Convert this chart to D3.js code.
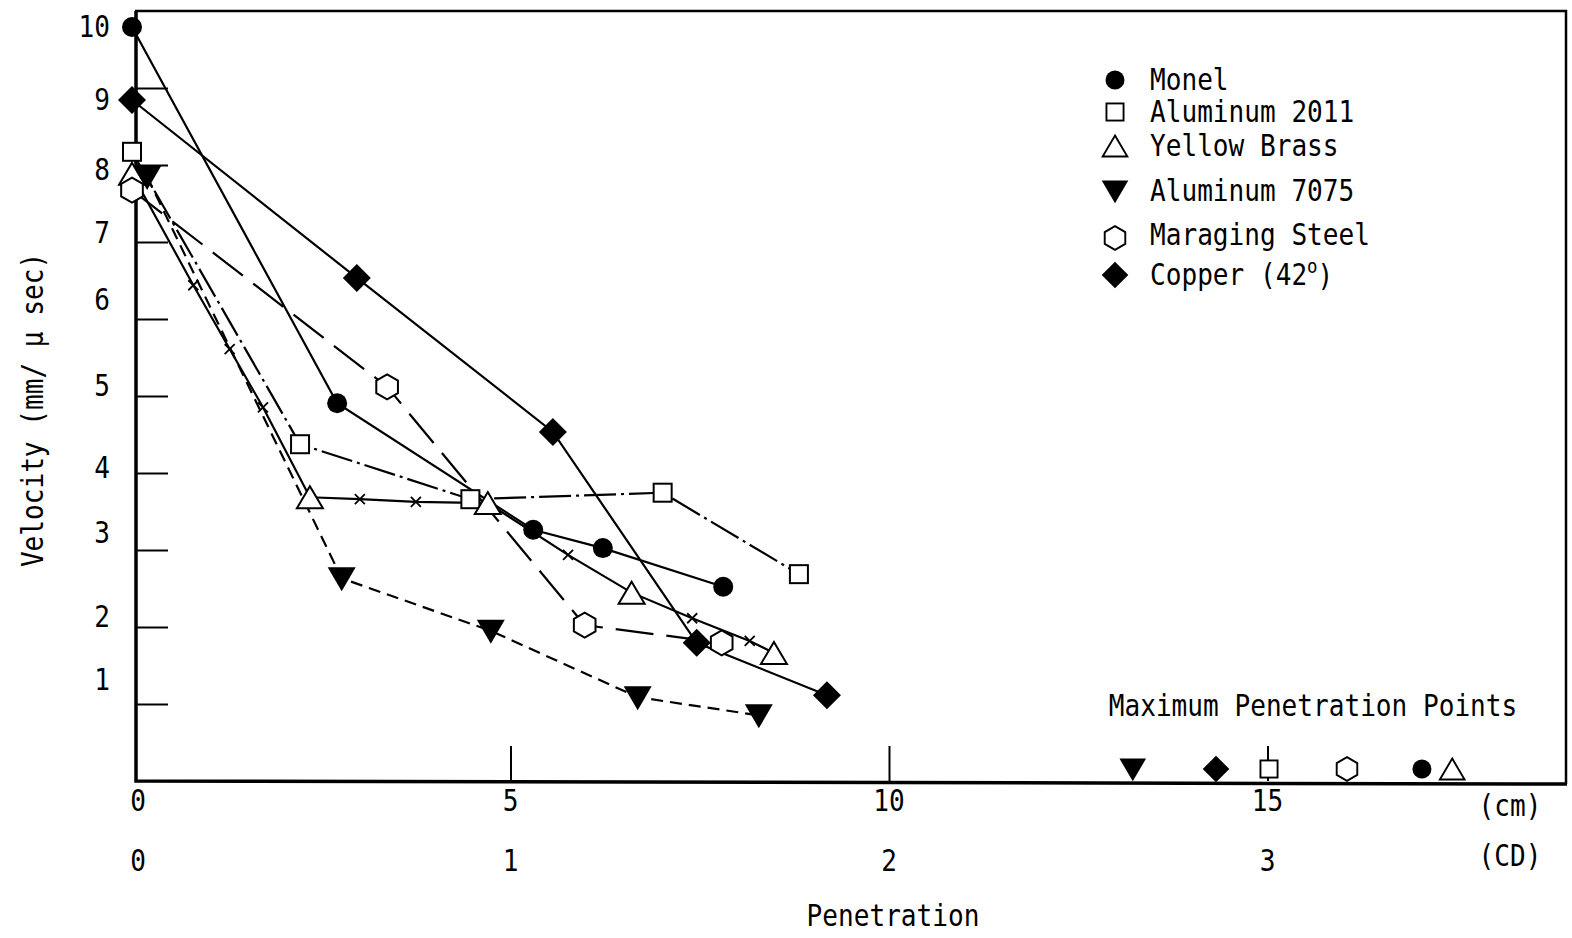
<!DOCTYPE html>
<html>
<head>
<meta charset="utf-8">
<script src="https://cdn.jsdelivr.net/npm/d3@7"></script>
<style>
  body { margin: 0; background: #fff; }
  svg { display: block; }
</style>
</head>
<body>
<div id="chart"></div>
<script>
// penetration in cm, velocity in mm/usec
var materials = ['Monel', 'Aluminum 2011', 'Yellow Brass', 'Aluminum 7075', 'Maraging Steel', 'Copper'];

var monelPen = [0, 2.71, 5.30, 6.22, 7.81];
var monelVel = [10, 4.79, 3.05, 2.82, 2.36];

var al2011Pen = [0, 2.22, 4.47, 7.01, 8.81];
var al2011Vel = [8.26, 4.29, 3.52, 3.62, 2.51];

var brassPen = [0, 2.35, 4.70, 6.60, 8.48];
var brassVel = [7.94, 3.55, 3.46, 2.29, 1.43];
// small x marks drawn along the brass curve
var brassCrossPen = [0.81, 1.29, 1.73, 3.01, 3.75, 5.76, 7.40, 8.16];
var brassCrossVel = [6.22, 5.43, 4.74, 3.52, 3.48, 2.74, 1.98, 1.62];

var al7075Pen = [0.20, 2.77, 4.74, 6.68, 8.28];
var al7075Vel = [7.89, 2.46, 1.78, 0.83, 0.65];

var maragingPen = [0, 3.37, 5.98, 7.79];
var maragingVel = [7.68, 4.99, 1.87, 1.59];

var copperPen = [0, 2.97, 5.56, 7.46, 9.18];
var copperVel = [9, 6.33, 4.44, 1.59, 0.85];

// maximum penetration (cm), same order as materials
var maxPen = [17.04, 15.02, 17.44, 13.22, 16.05, 14.32];

var velTicks = [1, 2, 3, 4, 5, 6, 7, 8, 9, 10];
var cmTicks = [0, 5, 10, 15];
var cdTicks = [0, 1, 2, 3];

var svgWidth = 1572;
var svgHeight = 938;
var fontFam = "'DejaVu Sans Mono', 'Liberation Mono', monospace";

var x = d3.scaleLinear().domain([0, 15]).range([132, 1267.5]);
// tick marks are evenly spaced, the hand-lettered labels are not
var yTick = d3.scaleLinear().domain([0, 10]).range([781, 11]);
var y = d3.scaleLinear()
    .domain([0, 1, 2, 3, 4, 5, 6, 7, 8, 9, 10])
    .range([781, 680, 617, 533, 468, 386, 300, 233, 170, 100, 27]);

var svg = d3.select('#chart').append('svg')
    .attr('width', svgWidth)
    .attr('height', svgHeight);

// condensed typewriter-ish text
function label(g, px, py, str, anchor) {
    return g.append('text')
        .attr('transform', `translate(${px},${py}) scale(0.87,1)`)
        .attr('text-anchor', anchor || 'middle')
        .attr('dominant-baseline', 'central')
        .style('font-family', fontFam)
        .style('font-size', '30px')
        .attr('fill', '#000')
        .text(str);
}

function marker(g, type, cx, cy, s) {
    s = s || 1;
    var m = g.append('g').attr('transform', `translate(${cx},${cy}) scale(${s})`);
    if (type == 'circle') {
        m.append('circle').attr('r', 10).attr('fill', '#000');
    } else if (type == 'square') {
        m.append('rect').attr('x', -9).attr('y', -9).attr('width', 18).attr('height', 18)
            .attr('fill', '#fff').attr('stroke', '#000').attr('stroke-width', 2);
    } else if (type == 'triangle') {
        m.append('path').attr('d', 'M0,-11L13,11L-13,11Z')
            .attr('fill', '#fff').attr('stroke', '#000').attr('stroke-width', 2);
    } else if (type == 'down') {
        m.append('path').attr('d', 'M-14,-11L14,-11L0,13Z').attr('fill', '#000');
    } else if (type == 'hexagon') {
        var pts = d3.range(6).map(i => {
            var a = Math.PI / 3 * i - Math.PI / 2;
            return [12.5 * Math.cos(a), 12.5 * Math.sin(a)];
        });
        m.append('path').attr('d', 'M' + pts.join('L') + 'Z')
            .attr('fill', '#fff').attr('stroke', '#000').attr('stroke-width', 2);
    } else if (type == 'diamond') {
        m.append('path').attr('d', 'M0,-14L14,0L0,14L-14,0Z').attr('fill', '#000');
    } else if (type == 'cross') {
        m.append('path').attr('d', 'M-5,-5L5,5M5,-5L-5,5')
            .attr('stroke', '#000').attr('stroke-width', 1.8);
    }
    return m;
}

var series = [
    { name: materials[0], pen: monelPen, vel: monelVel, shape: 'circle', dash: null },
    { name: materials[1], pen: al2011Pen, vel: al2011Vel, shape: 'square', dash: '32,5,3,5' },
    { name: materials[2], pen: brassPen, vel: brassVel, shape: 'triangle', dash: null },
    { name: materials[3], pen: al7075Pen, vel: al7075Vel, shape: 'down', dash: '12,7' },
    { name: materials[4], pen: maragingPen, vel: maragingVel, shape: 'hexagon', dash: '38,13' },
    { name: materials[5], pen: copperPen, vel: copperVel, shape: 'diamond', dash: null }
];

// y tick marks (inward)
svg.append('g')
    .attr('transform', `translate(${x(0) + 4},0)`)
    .call(d3.axisRight(yTick).tickValues(d3.range(1, 10)).tickSize(32).tickFormat(''))
    .call(g => g.select('.domain').remove())
    .call(g => g.selectAll('line').attr('stroke', '#000').attr('stroke-width', 2));

// x tick marks (upward)
svg.append('g')
    .attr('transform', `translate(0,${yTick(0)})`)
    .call(d3.axisTop(x).tickValues([5, 10, 15]).tickSize(35).tickFormat(''))
    .call(g => g.select('.domain').remove())
    .call(g => g.selectAll('line').attr('stroke', '#000').attr('stroke-width', 2));

// frame: thin top/right, heavy axes
svg.append('path')
    .attr('d', `M${x(0) + 3},${yTick(10)}L1566,${yTick(10)}L1566,${yTick(0) + 3}`)
    .attr('fill', 'none').attr('stroke', '#000').attr('stroke-width', 2.5);
svg.append('path')
    .attr('d', `M${x(0) + 4},${yTick(10)}L${x(0) + 4},${yTick(0)}L1567,${yTick(0) + 3}`)
    .attr('fill', 'none').attr('stroke', '#000').attr('stroke-width', 3.5);

// y labels
velTicks.forEach(v => label(svg, 110, y(v), String(v), 'end'));

// x labels, cm and charge diameters
cmTicks.forEach(v => label(svg, x(v) + (v == 0 ? 6 : 0), 801, String(v)));
cdTicks.forEach(v => label(svg, x(v * 5) + (v == 0 ? 6 : 0), 861, String(v)));
label(svg, 1510, 806, '(cm)');
label(svg, 1510, 856, '(CD)');
label(svg, 893, 916, 'Penetration');

svg.append('text')
    .attr('transform', 'translate(33,410) rotate(-90) scale(0.87,1)')
    .attr('text-anchor', 'middle')
    .attr('dominant-baseline', 'central')
    .style('font-family', fontFam)
    .style('font-size', '30px')
    .attr('fill', '#000')
    .text('Velocity (mm/ \u03bc sec)');

// lines
var line = d3.line().x(d => x(d[0])).y(d => y(d[1]));

var linesG = svg.append('g').attr('fill', 'none').attr('stroke', '#000').attr('stroke-width', 2.2);

series.forEach((s, i) => {
    var pts = s.pen.map((p, j) => [p, s.vel[j]]);
    if (s.name == 'Yellow Brass') {
        pts = pts.concat(brassCrossPen.map((p, j) => [p, brassCrossVel[j]]))
            .sort((a, b) => a[0] - b[0]);
    }
    linesG.append('path')
        .attr('d', line(pts))
        .attr('stroke-dasharray', s.dash);
});

// markers
var markG = svg.append('g');
brassCrossPen.forEach((p, j) => marker(markG, 'cross', x(p), y(brassCrossVel[j])));
series.forEach(s => {
    s.pen.forEach((p, j) => marker(markG, s.shape, x(p), y(s.vel[j])));
});

// legend
var legendG = svg.append('g');
var legendY = [80, 112, 146, 191, 235, 275];
series.forEach((s, i) => {
    marker(legendG, s.shape, 1115, legendY[i] + (s.shape == 'hexagon' ? 3 : 0), 0.95);
    if (s.name == 'Copper') {
        var t = label(legendG, 1150, legendY[i], 'Copper (42', 'start');
        t.append('tspan').attr('baseline-shift', '45%').style('font-size', '20px').text('o');
        t.append('tspan').text(')');
    } else {
        label(legendG, 1150, legendY[i], s.name, 'start');
    }
});

// maximum penetration points
label(svg, 1313, 706, 'Maximum Penetration Points');
series.forEach((s, i) => {
    marker(svg, s.shape, x(maxPen[i]), y(0) - 12, 0.95);
});
</script>
</body>
</html>
